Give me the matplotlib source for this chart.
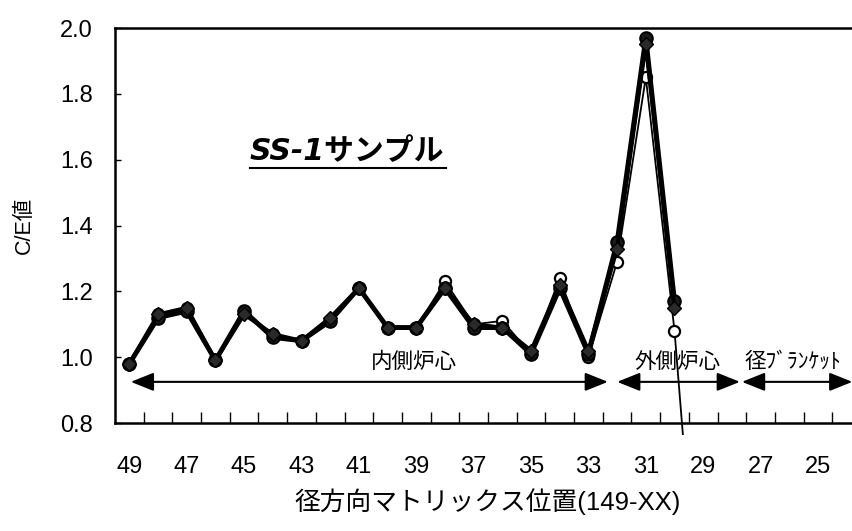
import matplotlib.pyplot as plt
from matplotlib.lines import Line2D
from matplotlib.patches import Rectangle
import numpy as np

plt.rcParams['font.family'] = ['Liberation Sans', 'Noto Sans CJK JP']

# matrix positions (149-XX), left to right
positions = [49, 48, 47, 46, 45, 44, 43, 42, 41, 40, 39, 38, 37,
             36, 35, 34, 33, 32, 31, 30, 29, 28, 27, 26, 25, 24]
tick_labels = ['49', '47', '45', '43', '41', '39', '37', '35', '33', '31', '29', '27', '25']

# C/E values (None = no data)
ce_a = [0.98, 1.12, 1.14, 0.99, 1.14, 1.06, 1.05, 1.11, 1.21, 1.09, 1.09, 1.21, 1.09,
        1.09, 1.01, 1.21, 1.01, 1.35, 1.97, 1.17, None, None, None, None, None, None]
ce_b = [0.98, 1.13, 1.15, 0.99, 1.13, 1.07, 1.05, 1.12, 1.21, 1.09, 1.09, 1.21, 1.10,
        1.09, 1.02, 1.22, 1.02, 1.33, 1.95, 1.15, None, None, None, None, None, None]
ce_c = [0.98, 1.13, 1.15, 0.99, 1.14, 1.07, 1.05, 1.11, 1.21, 1.09, 1.09, 1.23, 1.10,
        1.11, 1.01, 1.24, 1.00, 1.29, 1.85, 1.08, 0.0, None, None, None, None, None]

# regions: (label, first position, last position, label position, label align)
regions = [('内側炉心', 48.95, 32.32, 39.1, 'center'),
           ('外側炉心', 32.0, 27.72, 29.9, 'center'),
           ('径ﾌﾞﾗﾝｹｯﾄ', 27.65, 23.8, 27.55, 'left')]
arrow_y = 0.925

idx = np.arange(len(positions))


def to_idx(p):
    return positions[0] - p


def arr(v):
    return np.array([np.nan if x is None else x for x in v])


fig = plt.figure(figsize=(8.52, 5.31), dpi=100)
ax = fig.add_axes([115 / 852, 108 / 531, 746 / 852, 395 / 531])

ax.plot(idx, arr(ce_a), color='black', lw=3.5, marker='o', ms=9,
        mfc='#1a1a1a', mec='black', mew=1.5, zorder=4)
ax.plot(idx, arr(ce_b), color='black', lw=2.8, marker='D', ms=7,
        mfc='#2a2a2a', mec='black', zorder=4)
line_c, = ax.plot(idx, arr(ce_c), color='black', lw=1.3, marker='o', ms=8,
                  mfc='white', mec='black', mew=1.6, zorder=3)
clip = Rectangle((0, -0.03), 1, 1.06, transform=ax.transAxes, visible=False)
ax.add_patch(clip)
line_c.set_clip_path(clip)

ax.set_xlim(-0.5, len(positions) - 0.5)
ax.set_ylim(0.8, 2.0)

ax.set_xticks(idx[::2])
ax.set_xticklabels(tick_labels, fontsize=17)
ax.set_xticks(idx[:-1] + 0.5, minor=True)
ax.tick_params(axis='x', which='major', length=0, pad=24)
ax.tick_params(axis='x', which='minor', direction='in', length=8, width=1)

ax.set_yticks(np.arange(0.8, 2.01, 0.2))
ax.set_yticklabels(['0.8', '1.0', '1.2', '1.4', '1.6', '1.8', '2.0'], fontsize=17)
ax.tick_params(axis='y', direction='in', length=4, width=1, pad=16)

for s in ['left', 'bottom', 'top']:
    ax.spines[s].set_linewidth(1.8)
ax.spines['right'].set_visible(False)

for label, p0, p1, pl, ha in regions:
    ax.annotate('', xy=(to_idx(p1), arrow_y), xytext=(to_idx(p0), arrow_y),
                arrowprops=dict(arrowstyle='<|-|>,head_length=0.7,head_width=0.28',
                                mutation_scale=20, color='black', lw=1.5,
                                shrinkA=0, shrinkB=0))
    ax.text(to_idx(pl), 0.985, label, fontsize=15.5, ha=ha, va='center')

ax.text(to_idx(44.8), 1.625, 'SS-1サンプル', fontsize=21.5, fontweight='bold',
        style='italic', ha='left', va='center',
        family=['DejaVu Sans', 'Noto Sans CJK JP'])
fig.add_artist(Line2D([250 / 852, 446 / 852], [1 - 168 / 531] * 2,
                      color='black', lw=1.5))

ax.set_ylabel('C/E値', fontsize=15.5, va='center')
ax.yaxis.set_label_coords(-0.121, 0.5)
ax.set_xlabel('径方向マトリックス位置(149-XX)', fontsize=18.5, va='center')
ax.xaxis.set_label_coords(0.5, -0.2)

fig.savefig('out.png', dpi=100)
